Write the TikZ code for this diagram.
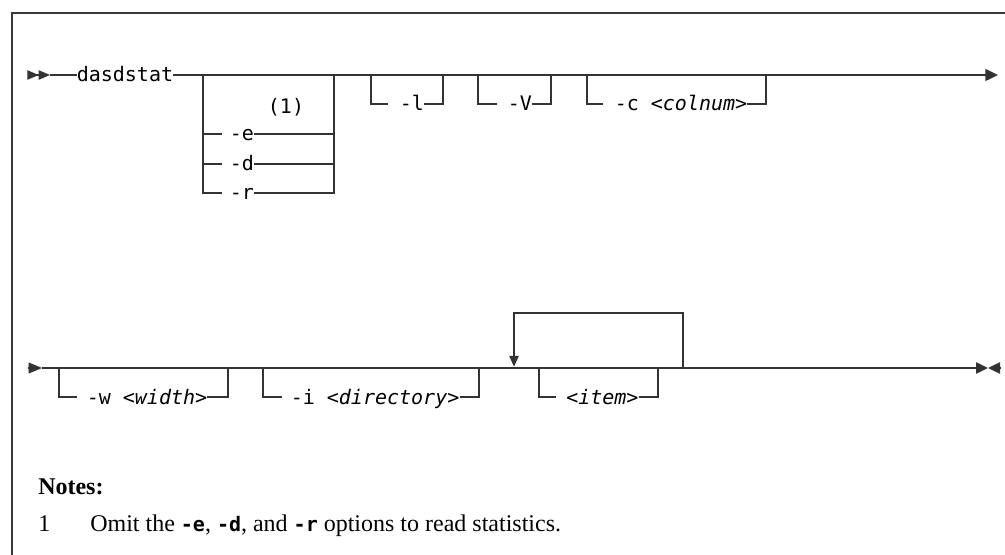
\documentclass[tikz,border=0pt]{standalone}
\usepackage{fontspec}
\setmainfont{Liberation Serif}
\setmonofont{DejaVu Sans Mono}
\usetikzlibrary{arrows.meta, positioning}
\definecolor{synRail}{HTML}{333333}
\definecolor{synFrame}{HTML}{3A3A3A}
\newcommand{\synfont}{\fontsize{15}{18}\selectfont\ttfamily}
\newcommand{\synvar}[1]{\textit{#1}}
\newcommand{\notecode}[1]{{\fontsize{15}{18}\selectfont\ttfamily\bfseries #1}}
\tikzset{
  rail/.style={draw=synRail, line width=1pt},
  railend/.style={rail, -{Triangle[length=9.5pt, width=9pt]}},
  kw/.style={font=\synfont, inner xsep=0pt, inner ysep=0pt, anchor=west,
    text height=10.5pt, text depth=0pt},
  frame/.style={draw=synFrame, line width=1.3pt},
  note/.style={font=\fontsize{18}{22}\selectfont, inner sep=0pt, anchor=base west}
}
\begin{document}
\begin{tikzpicture}[x=0.75pt, y=-0.75pt]
  \useasboundingbox (0,0) rectangle (1005,555);
  \draw[frame] (12,555) -- (12,13) -- (1005,13);

  % first row
  \coordinate (r1s) at (28,75);
  \coordinate (r1a) at (50,75);
  \coordinate (r1e) at (998,75);
  \node[kw] (cmd) at (76.5,75) {dasdstat};
  \draw[rail, -{Triangle[length=8.5pt, width=7pt] Triangle[length=8.5pt, width=7pt]}] (r1s) -- (r1a);
  \draw[rail] (r1a) -- (cmd.west);
  \draw[railend] (cmd.east) -- (r1e);

  % choice -e / -d / -r
  \coordinate (ga-in) at (203,75);
  \coordinate (ga-out) at (334,75);
  \coordinate (ga-stub) at (222,75);
  \node[kw, anchor=center] (fn1) at (286,107) {(1)};
  \node[kw] (opte) at (229.5,134) {-e};
  \node[kw] (optd) at (229.5,164) {-d};
  \node[kw] (optr) at (229.5,193) {-r};
  \draw[rail] (ga-in) |- (ga-stub |- optr);
  \draw[rail] (ga-in |- opte) -- (ga-stub |- opte);
  \draw[rail] (ga-in |- optd) -- (ga-stub |- optd);
  \draw[rail] (opte.east) -- (opte -| ga-out);
  \draw[rail] (optd.east) -- (optd -| ga-out);
  \draw[rail] (optr.east) -| (ga-out);

  % optional flags
  \foreach \nm/\txt/\xl/\xs/\xt/\xr/\yr in {
    l/{-l}/371/388/399.5/443/75,
    V/{-V}/478/497/507.5/551/75,
    c/{-c \synvar{<colnum>}}/587/603/614.5/766/75,
    w/{-w \synvar{<width>}}/59/77/86.5/228/368,
    i/{-i \synvar{<directory>}}/263/282/290.5/479/368,
    item/{\synvar{<item>}}/539/556/566/658/368}
  {
    \coordinate (\nm-in) at (\xl,\yr);
    \coordinate (\nm-out) at (\xr,\yr);
    \coordinate (\nm-stub) at (\xs,\yr+29);
    \node[kw] (opt\nm) at (\xt,\yr+29) {\txt};
    \draw[rail] (\nm-in) |- (\nm-stub);
    \draw[rail] (opt\nm.east) -| (\nm-out);
  }

  % second row
  \coordinate (r2s) at (28,368);
  \coordinate (r2a) at (42,368);
  \coordinate (r2e) at (988,368);
  \coordinate (r2f) at (1000,368);
  \draw[rail, -{Triangle[length=10pt, width=8pt]}] (r2s) -- (r2a);
  \draw[rail, -{Triangle[length=9pt, width=8.5pt]}] (r2a) -- (r2e);
  \draw[rail, -{Triangle[length=9pt, width=8.5pt]}] (r2f) -- (r2e);

  % repeat loop
  \coordinate (rep-l) at (514,368);
  \coordinate (rep-r) at (683,368);
  \coordinate (rep-top) at (600,313);
  \draw[rail, -{Triangle[length=8pt, width=7pt]}, shorten >=1pt] (rep-r) |- (rep-top) -| (rep-l);

  % notes
  \node[note] (notes) at (38,494) {\textbf{Notes:}};
  \node[note] (n1) at (38,531) {1};
  \node[note] (n1txt) at (90,531) {Omit the \notecode{-e}, \notecode{-d}, and \notecode{-r} options to read statistics.};
\end{tikzpicture}
\end{document}
